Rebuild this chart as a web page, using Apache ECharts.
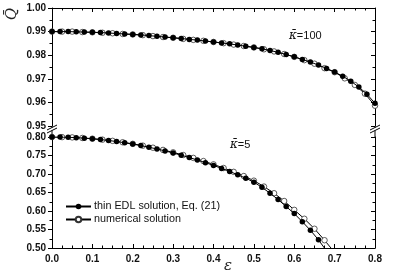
<!DOCTYPE html>
<html>
<head>
<meta charset="utf-8">
<script src="https://cdn.jsdelivr.net/npm/echarts@6/dist/echarts.min.js"></script>
<style>
  html, body { margin: 0; padding: 0; background: #fff; }
  #chart { width: 395px; height: 278px; }
</style>
</head>
<body>
<div id="chart"></div>
<script>
// ε 取值 (thin EDL: 步长 0.02, numerical: 步长 0.025)
var epsThin = [0, 0.02, 0.04, 0.06, 0.08, 0.10, 0.12, 0.14, 0.16, 0.18, 0.20, 0.22, 0.24, 0.26, 0.28, 0.30,
  0.32, 0.34, 0.36, 0.38, 0.40, 0.42, 0.44, 0.46, 0.48, 0.50, 0.52, 0.54, 0.56, 0.58, 0.60, 0.62, 0.64,
  0.66, 0.68, 0.70, 0.72, 0.74, 0.76, 0.78, 0.80];
var epsNum = [0, 0.025, 0.05, 0.075, 0.10, 0.125, 0.15, 0.175, 0.20, 0.225, 0.25, 0.275, 0.30, 0.325,
  0.35, 0.375, 0.40, 0.425, 0.45, 0.475, 0.50, 0.525, 0.55, 0.575, 0.60, 0.625, 0.65, 0.675, 0.70,
  0.725, 0.75, 0.775, 0.80];

// κ=100
var qThin100 = [0.9900, 0.9900, 0.9900, 0.9899, 0.9898, 0.9897, 0.9896, 0.9894, 0.9892, 0.9890, 0.9888,
  0.9886, 0.9883, 0.9880, 0.9877, 0.9874, 0.9871, 0.9867, 0.9864, 0.9860, 0.9856, 0.9852, 0.9848,
  0.9843, 0.9838, 0.9833, 0.9827, 0.9820, 0.9812, 0.9803, 0.9793, 0.9782, 0.9771, 0.9758, 0.9744,
  0.9729, 0.9711, 0.9690, 0.9665, 0.9635, 0.9596];
var qNum100 = [0.9900, 0.9900, 0.9900, 0.9898, 0.9897, 0.9895, 0.9893, 0.9890, 0.9888, 0.9885, 0.9881,
  0.9877, 0.9874, 0.9869, 0.9865, 0.9861, 0.9856, 0.9851, 0.9845, 0.9839, 0.9833, 0.9825, 0.9816,
  0.9805, 0.9793, 0.9779, 0.9764, 0.9745, 0.9728, 0.9702, 0.9674, 0.9637, 0.9586];

// κ=5
var qThin5 = [0.8000, 0.7998, 0.7992, 0.7983, 0.7969, 0.7952, 0.7931, 0.7906, 0.7877, 0.7844, 0.7808,
  0.7768, 0.7724, 0.7676, 0.7624, 0.7568, 0.7508, 0.7445, 0.7378, 0.7307, 0.7232, 0.7152, 0.7068,
  0.6980, 0.6885, 0.6780, 0.6640, 0.6480, 0.6310, 0.6120, 0.5930, 0.5710, 0.5480, 0.5220, 0.4920];
var qNum5 = [0.8000, 0.7997, 0.7989, 0.7974, 0.7954, 0.7928, 0.7896, 0.7858, 0.7815, 0.7766, 0.7711,
  0.7651, 0.7585, 0.7513, 0.7435, 0.7350, 0.7260, 0.7162, 0.7058, 0.6945, 0.6820, 0.6660, 0.6480,
  0.6270, 0.6030, 0.5790, 0.5520, 0.5210, 0.4880];

var nameThin = 'thin EDL solution, Eq. (21)';
var nameNum = 'numerical solution';

function pairs(xs, ys) {
  return ys.map(function (y, i) { return [xs[i], y]; });
}

var myChart = echarts.init(document.getElementById('chart'));

var labelStyle = { color: '#111', fontWeight: 'bold', fontSize: 10, fontFamily: 'Liberation Sans, Arial, sans-serif' };
var lineStyle = { color: '#000', width: 1 };

function filled(name, xi, yi, data) {
  return {
    name: name, type: 'line', xAxisIndex: xi, yAxisIndex: yi, data: data,
    symbol: 'circle', symbolSize: 5.5, clip: true, z: 3,
    lineStyle: { color: '#000', width: 1 },
    itemStyle: { color: '#000', borderColor: '#000', borderWidth: 0 }
  };
}
function open(name, xi, yi, data) {
  return {
    name: name, type: 'line', xAxisIndex: xi, yAxisIndex: yi, data: data,
    symbol: 'circle', symbolSize: 5.5, clip: true, z: 2,
    lineStyle: { color: '#000', width: 1 },
    itemStyle: { color: '#fff', borderColor: '#333', borderWidth: 0.8 }
  };
}

myChart.setOption({
  backgroundColor: '#fff',
  animation: false,
  grid: [
    { left: 52, right: 20, top: 8, height: 118 },
    { left: 52, right: 20, top: 137, height: 111 }
  ],
  xAxis: [
    {
      gridIndex: 0, type: 'value', position: 'top', min: 0, max: 0.8, interval: 0.1,
      axisLine: { show: true, lineStyle: lineStyle },
      axisTick: { show: true, inside: true, length: 4, lineStyle: lineStyle },
      minorTick: { show: true, splitNumber: 4, length: 2.5, lineStyle: lineStyle },
      axisLabel: { show: false }, splitLine: { show: false }
    },
    {
      gridIndex: 1, type: 'value', position: 'bottom', min: 0, max: 0.8, interval: 0.1,
      axisLine: { show: true, lineStyle: lineStyle },
      axisTick: { show: true, inside: true, length: 4, lineStyle: lineStyle },
      minorTick: { show: true, splitNumber: 4, length: 2.5, lineStyle: lineStyle },
      axisLabel: Object.assign({ margin: 6, formatter: function (v) { return v.toFixed(1); } }, labelStyle),
      splitLine: { show: false }
    }
  ],
  yAxis: [
    {
      gridIndex: 0, type: 'value', position: 'left', min: 0.95, max: 1.0, interval: 0.01,
      axisLine: { show: true, lineStyle: lineStyle },
      axisTick: { show: true, inside: false, length: 4, lineStyle: lineStyle },
      minorTick: { show: true, splitNumber: 2, length: 2.5, lineStyle: lineStyle },
      axisLabel: Object.assign({ margin: 6, formatter: function (v) { return v.toFixed(2); } }, labelStyle),
      splitLine: { show: false }
    },
    {
      gridIndex: 1, type: 'value', position: 'left', min: 0.5, max: 0.8, interval: 0.05,
      axisLine: { show: true, lineStyle: lineStyle },
      axisTick: { show: true, inside: false, length: 4, lineStyle: lineStyle },
      minorTick: { show: true, splitNumber: 2, length: 2.5, lineStyle: lineStyle },
      axisLabel: Object.assign({ margin: 6, formatter: function (v) { return v.toFixed(2); } }, labelStyle),
      splitLine: { show: false }
    },
    {
      gridIndex: 0, type: 'value', position: 'right', min: 0.95, max: 1.0, interval: 0.01,
      axisLine: { show: true, lineStyle: lineStyle },
      axisTick: { show: true, inside: true, length: 4, lineStyle: lineStyle },
      minorTick: { show: true, splitNumber: 2, length: 2.5, lineStyle: lineStyle },
      axisLabel: { show: false }, splitLine: { show: false }
    },
    {
      gridIndex: 1, type: 'value', position: 'right', min: 0.5, max: 0.8, interval: 0.05,
      axisLine: { show: true, lineStyle: lineStyle },
      axisTick: { show: true, inside: true, length: 4, lineStyle: lineStyle },
      minorTick: { show: true, splitNumber: 2, length: 2.5, lineStyle: lineStyle },
      axisLabel: { show: false }, splitLine: { show: false }
    }
  ],
  legend: {
    orient: 'vertical', left: 60, top: 196, itemWidth: 25, itemHeight: 7, itemGap: 2,
    data: [nameThin, nameNum],
    textStyle: { color: '#111', fontSize: 10.8, fontFamily: 'Liberation Sans, Arial, sans-serif', padding: [0, 0, 0, -2] }
  },
  graphic: [
    // y 轴标题 Q̄
    { type: 'text', left: 5, top: 8, rotation: Math.PI / 2, originX: 0, originY: 0,
      style: { text: 'Q\u0304', font: 'italic 15px "DejaVu Serif", serif', fill: '#222' } },
    // x 轴标题 ε
    { type: 'text', left: 224, top: 259,
      style: { text: '\u03b5', font: 'italic 15px "DejaVu Serif", serif', fill: '#222' } },
    { type: 'text', left: 289, top: 30,
      style: { text: '{k|\u03ba\u0304}=100', font: '11px "Liberation Sans", Arial, sans-serif', fill: '#111',
        rich: { k: { fontStyle: 'italic', fontFamily: 'DejaVu Serif', fontSize: 12 } } } },
    { type: 'text', left: 230, top: 139,
      style: { text: '{k|\u03ba\u0304}=5', font: '11px "Liberation Sans", Arial, sans-serif', fill: '#111',
        rich: { k: { fontStyle: 'italic', fontFamily: 'DejaVu Serif', fontSize: 12 } } } },
    // 轴断裂标记
    { type: 'line', shape: { x1: 52, y1: 126, x2: 52, y2: 127.5 }, style: { stroke: '#000', lineWidth: 1 } },
    { type: 'line', shape: { x1: 52, y1: 130.5, x2: 52, y2: 137 }, style: { stroke: '#000', lineWidth: 1 } },
    { type: 'line', shape: { x1: 47, y1: 130, x2: 57, y2: 125 }, style: { stroke: '#000', lineWidth: 1 } },
    { type: 'line', shape: { x1: 47, y1: 133, x2: 57, y2: 128 }, style: { stroke: '#000', lineWidth: 1 } },
    { type: 'line', shape: { x1: 375, y1: 126, x2: 375, y2: 127.5 }, style: { stroke: '#000', lineWidth: 1 } },
    { type: 'line', shape: { x1: 375, y1: 130.5, x2: 375, y2: 137 }, style: { stroke: '#000', lineWidth: 1 } },
    { type: 'line', shape: { x1: 370, y1: 130, x2: 380, y2: 125 }, style: { stroke: '#000', lineWidth: 1 } },
    { type: 'line', shape: { x1: 370, y1: 133, x2: 380, y2: 128 }, style: { stroke: '#000', lineWidth: 1 } }
  ],
  series: [
    open(nameNum, 0, 0, pairs(epsNum, qNum100)),
    filled(nameThin, 0, 0, pairs(epsThin, qThin100)),
    open(nameNum, 1, 1, pairs(epsNum, qNum5)),
    filled(nameThin, 1, 1, pairs(epsThin, qThin5))
  ]
});
</script>
</body>
</html>
